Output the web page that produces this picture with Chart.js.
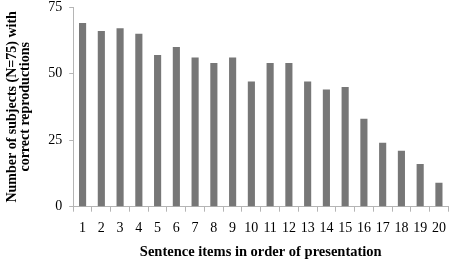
<!DOCTYPE html>
<html>
<head>
<meta charset="utf-8">
<script src="https://cdn.jsdelivr.net/npm/chart.js@4"></script>
<style>
  html, body { margin: 0; padding: 0; background: #fff; }
  #wrap { width: 454px; height: 261px; }
</style>
</head>
<body>
<div id="wrap"><canvas id="grafico"></canvas></div>
<script>
const itens = ["1","2","3","4","5","6","7","8","9","10","11","12","13","14","15","16","17","18","19","20"];
const acertos = [69, 66, 67, 65, 57, 60, 56, 54, 56, 47, 54, 54, 47, 44, 45, 33, 24, 21, 16, 9];
const ticksY = [0, 25, 50, 75];

const fonteSerif = "'Liberation Serif', 'DejaVu Serif', serif";

const ctx = document.getElementById("grafico").getContext("2d");
new Chart(ctx, {
  type: "bar",
  data: {
    labels: itens,
    datasets: [{
      data: acertos,
      backgroundColor: "#777777",
      borderWidth: 0,
      barPercentage: 0.38,
      categoryPercentage: 1.0,
    }],
  },
  options: {
    responsive: true,
    maintainAspectRatio: false,
    animation: false,
    layout: { autoPadding: false, padding: { left: 2, right: 3, top: 7, bottom: 2 } },
    plugins: {
      legend: { display: false },
      tooltip: { enabled: false },
    },
    scales: {
      x: {
        grid: {
          offset: true,
          drawOnChartArea: false,
          tickLength: 5,
          color: "#b5b5b5",
        },
        border: { color: "#b5b5b5" },
        ticks: {
          color: "#000",
          font: { family: fonteSerif, size: 14 },
          maxRotation: 0,
          autoSkip: false,
          padding: 8,
        },
        title: {
          display: true,
          text: "Sentence items in order of presentation",
          color: "#000",
          font: { family: fonteSerif, size: 14.5, weight: "bold", lineHeight: 1.0 },
          padding: { top: 0, bottom: 0 },
        },
      },
      y: {
        min: 0,
        max: 75,
        afterBuildTicks: (axis) => {
          axis.ticks = ticksY.map((v) => ({ value: v }));
        },
        // o rótulo "75" pode ficar encostado no topo
        afterFit: (axis) => {
          axis.paddingTop = 0;
          axis.paddingBottom = 0;
        },
        grid: {
          drawOnChartArea: false,
          tickLength: 4,
          color: "#b5b5b5",
        },
        border: { color: "#b5b5b5" },
        ticks: {
          color: "#000",
          font: { family: fonteSerif, size: 14 },
          padding: 7,
        },
        title: {
          display: true,
          text: ["Number of subjects (N=75) with", "correct reproductions"],
          color: "#000",
          font: { family: fonteSerif, size: 14, weight: "bold", lineHeight: 0.9 },
          padding: { bottom: 10 },
        },
      },
    },
  },
});
</script>
</body>
</html>
